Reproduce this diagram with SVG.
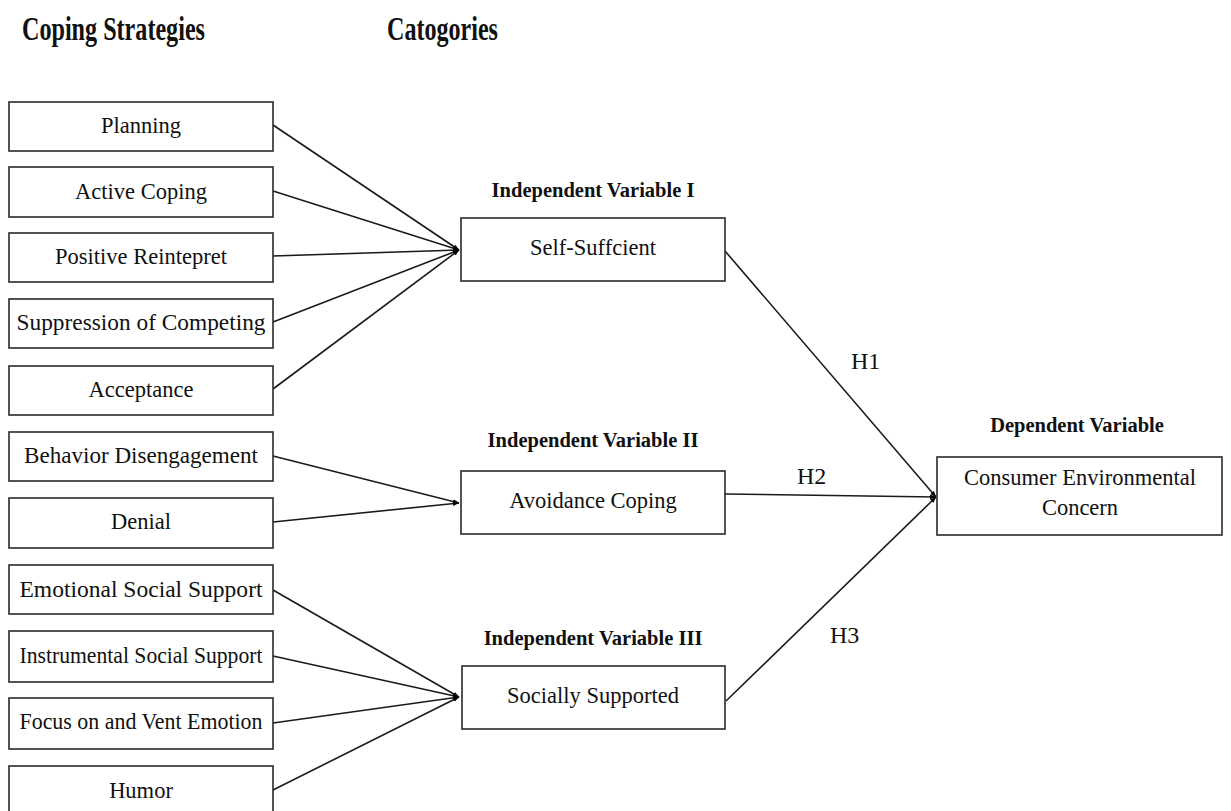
<svg xmlns="http://www.w3.org/2000/svg" width="1231" height="811" viewBox="0 0 1231 811">
<style>
.box{fill:#fff;stroke:#2a2a2a;stroke-width:1.6}
.t{font-family:"Liberation Serif","Times New Roman",serif;font-size:22.5px;fill:#111;text-anchor:middle}
.b{font-family:"Liberation Serif","Times New Roman",serif;font-weight:bold;font-size:20.5px;fill:#111;text-anchor:middle}
.title{font-family:"Liberation Serif","Times New Roman",serif;font-weight:bold;font-size:34px;fill:#111}
.h{font-family:"Liberation Serif","Times New Roman",serif;font-size:24px;fill:#111}
.c{fill:none;stroke:#1a1a1a;stroke-width:1.6}
</style>
<defs>
<marker id="ah" viewBox="0 0 10 10" refX="10" refY="5" markerWidth="6" markerHeight="6" markerUnits="userSpaceOnUse" orient="auto">
<path d="M0,1 L10,5 L0,9 z" fill="#000"/>
</marker>
</defs>
<rect width="1231" height="811" fill="#fff"/>
<text class="title" x="22" y="40" textLength="183" lengthAdjust="spacingAndGlyphs">Coping Strategies</text>
<text class="title" x="387" y="40" textLength="111" lengthAdjust="spacingAndGlyphs">Catogories</text>

<g id="connectors">
<line class="c" x1="273" y1="125" x2="459" y2="250" marker-end="url(#ah)"/>
<line class="c" x1="273" y1="191" x2="459" y2="250" marker-end="url(#ah)"/>
<line class="c" x1="273" y1="256" x2="459" y2="250" marker-end="url(#ah)"/>
<line class="c" x1="273" y1="322" x2="459" y2="250" marker-end="url(#ah)"/>
<line class="c" x1="273" y1="389" x2="459" y2="250" marker-end="url(#ah)"/>
<line class="c" x1="273" y1="456" x2="459" y2="503" marker-end="url(#ah)"/>
<line class="c" x1="273" y1="522" x2="459" y2="503" marker-end="url(#ah)"/>
<line class="c" x1="273" y1="590" x2="459" y2="697" marker-end="url(#ah)"/>
<line class="c" x1="273" y1="656" x2="459" y2="697" marker-end="url(#ah)"/>
<line class="c" x1="273" y1="723" x2="459" y2="697" marker-end="url(#ah)"/>
<line class="c" x1="273" y1="790" x2="459" y2="697" marker-end="url(#ah)"/>
<line class="c" x1="725" y1="251" x2="936" y2="497" marker-end="url(#ah)"/>
<line class="c" x1="725" y1="494" x2="936" y2="497" marker-end="url(#ah)"/>
<line class="c" x1="726" y1="701" x2="936" y2="497" marker-end="url(#ah)"/>
<text class="h" x="851" y="369">H1</text>
<text class="h" x="797" y="484">H2</text>
<text class="h" x="830" y="643">H3</text>
</g>

<g id="planning"><rect class="box" x="9" y="102" width="264" height="49"/><text class="t" x="141" y="133">Planning</text></g>
<g id="active-coping"><rect class="box" x="9" y="167" width="264" height="50"/><text class="t" x="141" y="199">Active Coping</text></g>
<g id="positive-reintepret"><rect class="box" x="9" y="233" width="264" height="49"/><text class="t" x="141" y="264">Positive Reintepret</text></g>
<g id="suppression"><rect class="box" x="9" y="299" width="264" height="49"/><text class="t" x="141" y="330" textLength="249" lengthAdjust="spacingAndGlyphs">Suppression of Competing</text></g>
<g id="acceptance"><rect class="box" x="9" y="366" width="264" height="49"/><text class="t" x="141" y="397">Acceptance</text></g>
<g id="behavior-disengagement"><rect class="box" x="9" y="432" width="264" height="49"/><text class="t" x="141" y="463" textLength="234" lengthAdjust="spacingAndGlyphs">Behavior Disengagement</text></g>
<g id="denial"><rect class="box" x="9" y="498" width="264" height="50"/><text class="t" x="141" y="529">Denial</text></g>
<g id="emotional-social-support"><rect class="box" x="9" y="565" width="264" height="49"/><text class="t" x="141" y="597" textLength="243" lengthAdjust="spacingAndGlyphs">Emotional Social Support</text></g>
<g id="instrumental-social-support"><rect class="box" x="9" y="631" width="264" height="51"/><text class="t" x="141" y="663" textLength="243" lengthAdjust="spacingAndGlyphs">Instrumental Social Support</text></g>
<g id="focus-vent-emotion"><rect class="box" x="9" y="698" width="264" height="51"/><text class="t" x="141" y="729" textLength="243" lengthAdjust="spacingAndGlyphs">Focus on and Vent Emotion</text></g>
<g id="humor"><rect class="box" x="9" y="766" width="264" height="52"/><text class="t" x="141" y="798">Humor</text></g>

<g id="self-sufficient"><text class="b" x="593" y="197">Independent Variable I</text><rect class="box" x="461" y="218" width="264" height="63"/><text class="t" x="593" y="255">Self-Suffcient</text></g>
<g id="avoidance-coping"><text class="b" x="593" y="447">Independent Variable II</text><rect class="box" x="461" y="471" width="264" height="63"/><text class="t" x="593" y="508">Avoidance Coping</text></g>
<g id="socially-supported"><text class="b" x="593" y="645">Independent Variable III</text><rect class="box" x="462" y="666" width="263" height="63"/><text class="t" x="593" y="703">Socially Supported</text></g>
<g id="consumer-environmental-concern"><text class="b" x="1077" y="432">Dependent Variable</text><rect class="box" x="937" y="457" width="285" height="78"/><text class="t" x="1080" y="485">Consumer Environmental</text><text class="t" x="1080" y="515">Concern</text></g>
</svg>
